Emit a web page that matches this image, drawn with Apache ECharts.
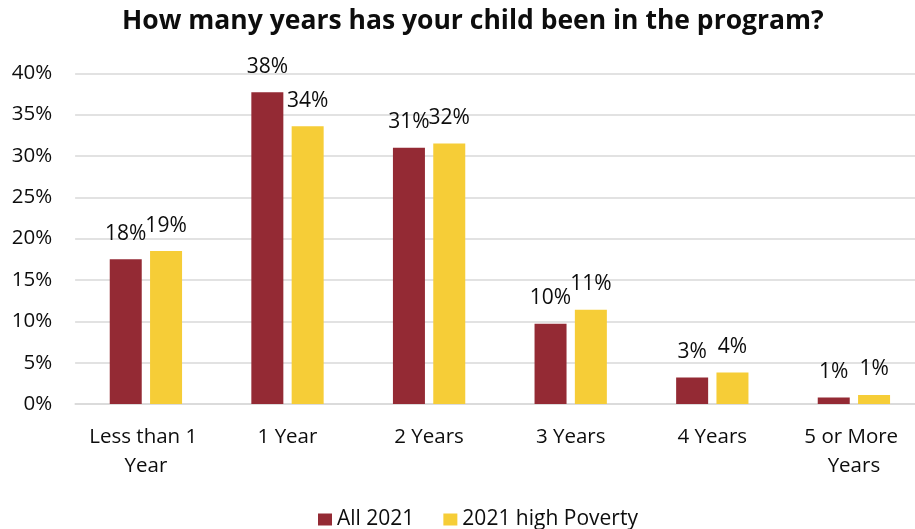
<!DOCTYPE html>
<html>
<head>
<meta charset="utf-8">
<style>
  html, body { margin: 0; padding: 0; background: #fff; }
  #chart { width: 915px; height: 529px; }
</style>
<script src="https://cdn.jsdelivr.net/npm/echarts@6/dist/echarts.min.js"></script>
</head>
<body>
<div id="chart"></div>
<script>
// Years in the program, share of respondents (%)
const categories = ['Less than 1 Year', '1 Year', '2 Years', '3 Years', '4 Years', '5 or More Years'];
const all2021 = [17.5, 37.7, 31.0, 9.7, 3.2, 0.8];
const highPoverty2021 = [18.5, 33.6, 31.5, 11.4, 3.8, 1.1];
const seriesNames = ['All 2021', '2021 high Poverty'];
const yTicks = { min: 0, max: 40, step: 5 };

const FONT = "'Open Sans', 'Liberation Sans', sans-serif";
const TEXT = '#0d0d0d';

const labelStyle = {
  show: true,
  position: 'top',
  distance: 15,
  fontFamily: FONT,
  fontSize: 21,
  color: TEXT,
  formatter: p => Math.round(p.value) + '%'
};

const chart = echarts.init(document.getElementById('chart'), null, { renderer: 'canvas' });
chart.setOption({
  animation: false,
  title: {
    text: 'How many years has your child been in the program?',
    left: 117,
    top: 3,
    textStyle: { fontFamily: FONT, fontSize: 26.5, fontWeight: 'bold', color: TEXT }
  },
  legend: {
    data: seriesNames,
    top: 504,
    left: 313,
    itemWidth: 14,
    itemHeight: 12,
    itemGap: 29,
    icon: 'rect',
    textStyle: { fontFamily: FONT, fontSize: 21, color: TEXT }
  },
  // the plot area runs slightly past the right edge of the canvas
  grid: { left: 75.1, width: 849.6, top: 73.3, bottom: 125, outerBoundsMode: 'none', containLabel: false },
  xAxis: {
    type: 'category',
    data: categories,
    axisLine: { lineStyle: { color: '#d9d9d9', width: 1.5 } },
    axisTick: { show: false },
    axisLabel: {
      fontFamily: FONT,
      fontSize: 20.5,
      color: TEXT,
      margin: 19,
      lineHeight: 29,
      width: 125,
      overflow: 'break',
      interval: 0
    }
  },
  yAxis: {
    type: 'value',
    min: yTicks.min,
    max: yTicks.max,
    interval: yTicks.step,
    axisLine: { show: false },
    axisTick: { show: false },
    splitLine: { lineStyle: { color: '#d9d9d9', width: 1.5 } },
    axisLabel: {
      fontFamily: FONT,
      fontSize: 20.5,
      color: TEXT,
      margin: 23,
      formatter: '{value}%'
    }
  },
  series: [
    {
      name: seriesNames[0],
      type: 'bar',
      data: all2021,
      barWidth: 32,
      barGap: '26%',
      itemStyle: { color: '#942a34' },
      label: labelStyle
    },
    {
      name: seriesNames[1],
      type: 'bar',
      data: highPoverty2021,
      barWidth: 32,
      barGap: '26%',
      itemStyle: { color: '#f6cd37' },
      label: labelStyle
    }
  ]
});
</script>
</body>
</html>
